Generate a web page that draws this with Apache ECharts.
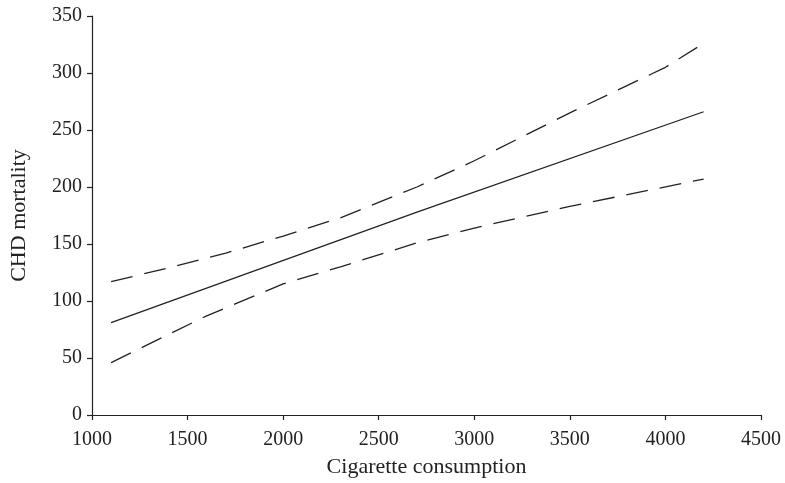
<!DOCTYPE html>
<html>
<head>
<meta charset="utf-8">
<script src="https://cdn.jsdelivr.net/npm/echarts@6/dist/echarts.min.js"></script>
<style>
  html, body { margin: 0; padding: 0; background: #fff; }
  #chart { width: 785px; height: 483px; }
</style>
</head>
<body>
<div id="chart"></div>
<script>
// Fitted CHD mortality vs cigarette consumption with confidence band
const fitX   = [1100, 2700, 4200];
const fitY   = [81, 178, 266];
const upperX = [1100, 1400, 1700, 2000, 2300, 2700, 3000, 3500, 4000, 4200];
const upperY = [117, 129, 142, 157, 173, 200, 223, 265, 305, 326];
const lowerX = [1100, 1600, 2000, 2300, 2700, 3000, 3500, 4200];
const lowerY = [46, 87, 115, 130, 151, 164, 183, 207];

const xTicks = [1000, 1500, 2000, 2500, 3000, 3500, 4000, 4500];
const yTicks = [0, 50, 100, 150, 200, 250, 300, 350];

const pairs = (xs, ys) => xs.map((x, i) => [x, ys[i]]);
const font = '"Liberation Serif", "DejaVu Serif", serif';
const ink = '#222';

const lineSeries = (data, dashed) => ({
  type: 'line',
  data: data,
  symbol: 'none',
  smooth: false,
  silent: true,
  lineStyle: { color: ink, width: 1.3, type: dashed ? [22, 12] : 'solid' }
});

const chart = echarts.init(document.getElementById('chart'), null, { renderer: 'canvas' });
chart.setOption({
  animation: false,
  backgroundColor: '#fff',
  grid: { left: 92, right: 24, top: 16, bottom: 67 },
  xAxis: {
    type: 'value',
    min: xTicks[0], max: xTicks[xTicks.length - 1], interval: 500,
    name: 'Cigarette consumption',
    nameLocation: 'middle', nameGap: 41,
    nameTextStyle: { fontFamily: font, fontSize: 22, color: ink },
    axisLine: { show: true, lineStyle: { color: ink, width: 1.2 } },
    axisTick: { show: true, inside: false, length: 5, lineStyle: { color: ink, width: 1.2 } },
    axisLabel: { fontFamily: font, fontSize: 20, color: ink, margin: 15, formatter: v => String(v) },
    splitLine: { show: false }
  },
  yAxis: {
    type: 'value',
    min: yTicks[0], max: yTicks[yTicks.length - 1], interval: 50,
    name: 'CHD mortality',
    nameLocation: 'middle', nameGap: 62,
    nameTextStyle: { fontFamily: font, fontSize: 22, color: ink },
    axisLine: { show: true, lineStyle: { color: ink, width: 1.2 } },
    axisTick: { show: true, inside: false, length: 5, lineStyle: { color: ink, width: 1.2 } },
    axisLabel: { fontFamily: font, fontSize: 20, color: ink, margin: 10, formatter: v => String(v) },
    splitLine: { show: false }
  },
  series: [
    lineSeries(pairs(upperX, upperY), true),
    lineSeries(pairs(fitX, fitY), false),
    lineSeries(pairs(lowerX, lowerY), true)
  ]
});
</script>
</body>
</html>
